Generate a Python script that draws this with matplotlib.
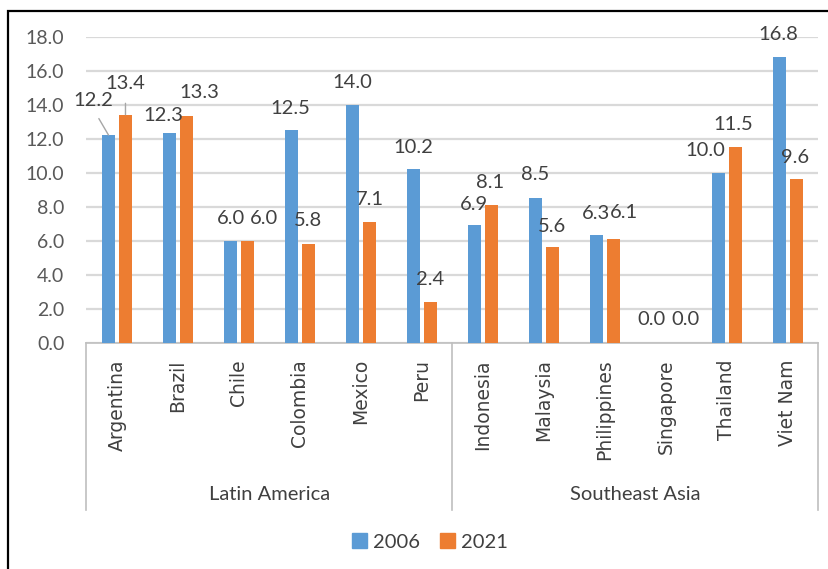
import matplotlib
matplotlib.use("Agg")
import matplotlib.pyplot as plt
import matplotlib.transforms as mtransforms
from matplotlib.patches import Patch, Rectangle
import numpy as np

# datos por pais
paises = ["Argentina", "Brazil", "Chile", "Colombia", "Mexico", "Peru",
          "Indonesia", "Malaysia", "Philippines", "Singapore", "Thailand", "Viet Nam"]
grupos = ["Latin America", "Southeast Asia"]
tam_grupos = [6, 6]
valores_2006 = [12.2, 12.3, 6.0, 12.5, 14.0, 10.2, 6.9, 8.5, 6.3, 0.0, 10.0, 16.8]
valores_2021 = [13.4, 13.3, 6.0, 5.8, 7.1, 2.4, 8.1, 5.6, 6.1, 0.0, 11.5, 9.6]

azul = "#5B9BD5"
naranja = "#ED7D31"
gris_texto = "#404040"

# desplazamiento de cada etiqueta (pixeles) respecto al tope de la barra
dx_2006 = [-15.5, -6.5, 0, -1, 0, 0, -1, 0, -1, -6.5, -13.5, -1]
dy_2006 = [35, 18, 22, 21, 22, 22, 21, 23, 22, 23, 22, 22]
dx_2021 = [0, 12.5, 16.5, 0, 0, 0, -1, 0, 10.5, 11.5, -2, -1]
dy_2021 = [31, 24, 22, 23, 22, 22, 22, 21, 26, 23, 22, 22]

W, H = 829, 569
fig = plt.figure(figsize=(W / 100, H / 100), dpi=100)
ax = fig.add_axes([86.5 / W, 1 - 342.5 / H, 732 / W, 306 / H])

x = np.arange(len(paises))
ancho = 0.215
sep = 0.139
ax.bar(x - sep, valores_2006, ancho, color=azul, zorder=3)
ax.bar(x + sep, valores_2021, ancho, color=naranja, zorder=3)

ax.set_xlim(-0.5, len(paises) - 0.5)
ax.set_ylim(0, 18)
ax.set_yticks(np.arange(0, 19, 2))
ax.set_yticklabels([f"{v:.1f}" for v in np.arange(0, 19, 2)],
                   fontfamily="Lato", fontsize=14, color="#595959")
ax.yaxis.grid(True, color="#d9d9d9", lw=1.6, zorder=0)
ax.set_axisbelow(True)
for s in ["top", "right", "left"]:
    ax.spines[s].set_visible(False)
ax.spines["bottom"].set_color("#bfbfbf")
ax.spines["bottom"].set_linewidth(1.2)
ax.tick_params(axis="y", length=0, pad=16)
ax.set_xticks(x)
ax.set_xticklabels(paises, rotation=90, fontfamily="DejaVu Sans",
                   fontsize=13.5, color=gris_texto)
ax.tick_params(axis="x", length=0, pad=12)

# etiquetas de valores
def etiquetas(valores, desp, dxs, dys, lineas):
    for i, v in enumerate(valores):
        props = None
        if i in lineas:
            props = dict(arrowstyle="-", color="#a6a6a6", lw=1,
                         shrinkA=6, shrinkB=0, relpos=lineas[i])
        ax.annotate(f"{v:.1f}", xy=(i + desp, v), xytext=(dxs[i], dys[i]),
                    textcoords="offset pixels", ha="center", va="center",
                    fontfamily="Lato", fontsize=14.5, color=gris_texto,
                    arrowprops=props, zorder=4)

etiquetas(valores_2006, -sep, dx_2006, dy_2006, {0: (0.5, 0)})
etiquetas(valores_2021, sep, dx_2021, dy_2021, {0: (0.5, 0)})

# eje de categorias agrupado
mezcla = mtransforms.blended_transform_factory(ax.transData, fig.transFigure)
y_abajo = 1 - 510 / H
bordes = np.concatenate([[0], np.cumsum(tam_grupos)]) - 0.5
for b in bordes:
    ax.plot([b, b], [1 - 342.5 / H, y_abajo], transform=mezcla,
            color="#bfbfbf", lw=1.2, clip_on=False)
for g, ini, fin in zip(grupos, bordes[:-1], bordes[1:]):
    ax.text((ini + fin) / 2, 1 - 495 / H, g, transform=mezcla,
            ha="center", va="center", fontfamily="Lato", fontsize=14.5,
            color=gris_texto)

# leyenda
manijas = [Patch(color=azul, label="2006"), Patch(color=naranja, label="2021")]
fig.legend(handles=manijas, loc="center", bbox_to_anchor=(430 / W, 1 - 542 / H),
           ncol=2, frameon=False, handlelength=0.75, handleheight=0.75,
           handletextpad=0.3, columnspacing=1.0,
           prop={"family": "Lato", "size": 14.5}, labelcolor=gris_texto)

# marco exterior
fig.add_artist(Rectangle((8 / W, -0.1), 1.2, 1 - 11.5 / H + 0.1,
                         transform=fig.transFigure, fill=False,
                         edgecolor="black", lw=1.6))

fig.savefig("out.png", dpi=100, facecolor="white")
